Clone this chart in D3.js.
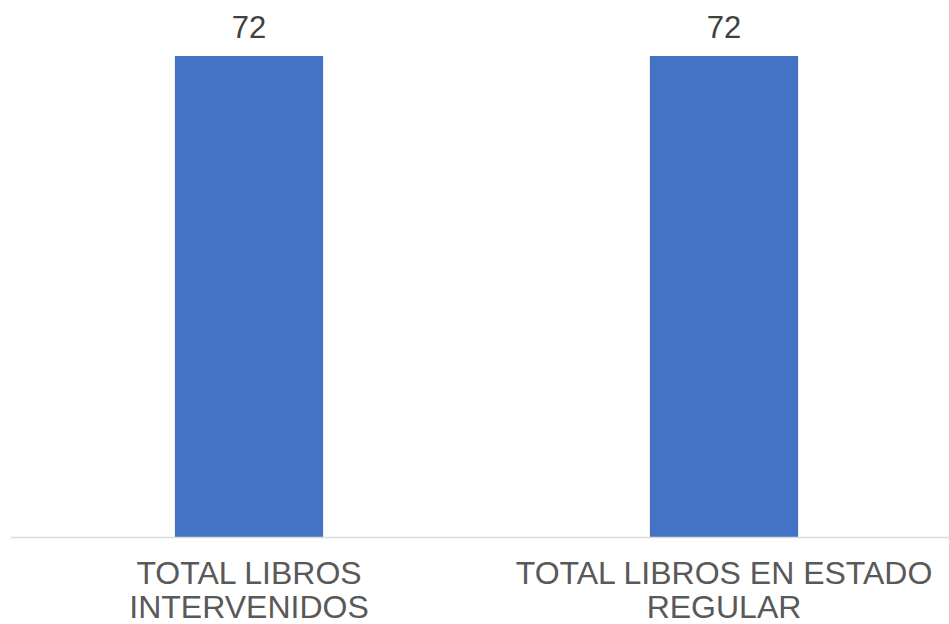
<!DOCTYPE html>
<html>
<head>
<meta charset="utf-8">
<title>Libros</title>
<script src="https://d3js.org/d3.v7.min.js"></script>
<style>
  body { margin: 0; background: #fff; }
  text { font-family: "Liberation Sans", Arial, sans-serif; }
</style>
</head>
<body>
<svg width="949" height="624"></svg>
<script>
// datos
var categorias = [["TOTAL LIBROS", "INTERVENIDOS"], ["TOTAL LIBROS EN ESTADO", "REGULAR"]];
var valores = [72, 72];

var svg = d3.select("svg");
var base = 537;

var x = d3.scaleBand()
    .domain(d3.range(valores.length))
    .range([11.5, 961.5])
    .paddingInner(0.688)
    .paddingOuter(0.344);

var y = d3.scaleLinear()
    .domain([0, 72])
    .range([base, 56]);

// barras
svg.append("g").selectAll("rect")
    .data(valores)
    .enter().append("rect")
      .attr("x", function(d, i) { return x(i); })
      .attr("y", function(d) { return y(d); })
      .attr("width", x.bandwidth())
      .attr("height", function(d) { return base - y(d); })
      .attr("fill", "#4472C4");

// eje
svg.append("line")
    .attr("x1", 11).attr("x2", 949)
    .attr("y1", base + 0.5).attr("y2", base + 0.5)
    .attr("stroke", "#D9D9D9")
    .attr("stroke-width", 1.5);

// etiquetas de valor
svg.append("g").selectAll("text")
    .data(valores)
    .enter().append("text")
      .attr("x", function(d, i) { return x(i) + x.bandwidth() / 2; })
      .attr("y", function(d) { return y(d) - 18; })
      .attr("text-anchor", "middle")
      .attr("font-size", "31px")
      .attr("fill", "#404040")
      .text(function(d) { return d; });

// categorias
var cat = svg.append("g").selectAll("text")
    .data(categorias)
    .enter().append("text")
      .attr("text-anchor", "middle")
      .attr("font-size", "32px")
      .attr("fill", "#595959");

cat.selectAll("tspan")
    .data(function(d, i) { return d.map(function(t) { return {t: t, i: i}; }); })
    .enter().append("tspan")
      .attr("x", function(d) { return x(d.i) + x.bandwidth() / 2; })
      .attr("y", function(d, j) { return 584 + j * 34; })
      .text(function(d) { return d.t; });
</script>
</body>
</html>
